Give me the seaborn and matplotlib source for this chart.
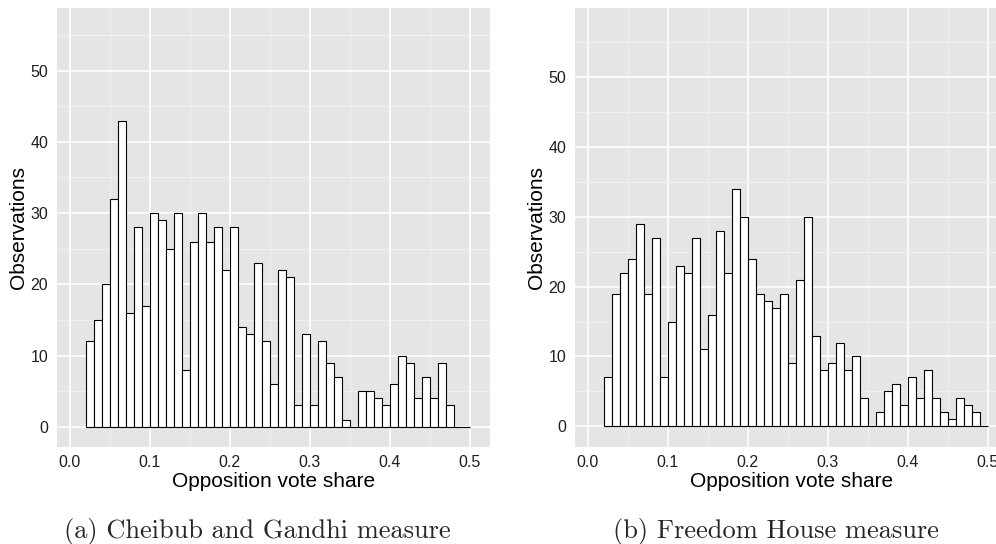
import numpy as np
import pandas as pd
import matplotlib
matplotlib.use("Agg")
import matplotlib.pyplot as plt
import seaborn as sns
from matplotlib.ticker import MultipleLocator

# Histogram bins: width 0.01 starting at 0.02
bin_start = 0.02
bin_width = 0.01

# Counts per bin, Cheibub & Gandhi measure
cg_counts = [12, 15, 20, 32, 43, 16, 28, 17, 30, 29, 25, 30, 8, 26, 30, 26,
             28, 22, 28, 14, 13, 23, 12, 6, 22, 21, 3, 13, 3, 12, 9, 7,
             1, 0, 5, 5, 4, 3, 6, 10, 9, 4, 7, 4, 9, 3, 0, 0]

# Counts per bin, Freedom House measure
fh_counts = [7, 19, 22, 24, 29, 19, 27, 7, 15, 23, 22, 27, 11, 16, 28, 22,
             34, 30, 24, 19, 18, 17, 19, 9, 21, 30, 13, 8, 9, 12, 8, 10,
             4, 0, 2, 5, 6, 3, 7, 4, 8, 4, 2, 1, 4, 3, 2, 0]

x_ticks = [0.0, 0.1, 0.2, 0.3, 0.4, 0.5]
x_tick_labels = ["0.0", "0.1", "0.2", "0.3", "0.4", "0.5"]
y_ticks = [0, 10, 20, 30, 40, 50]
y_tick_labels = ["0", "10", "20", "30", "40", "50"]

x_title = "Opposition vote share"
y_title = "Observations"
captions = ["(a) Cheibub and Gandhi measure", "(b) Freedom House measure"]

sns.set_theme(style="darkgrid")
plt.rcParams["font.family"] = ["Liberation Sans", "DejaVu Sans"]

W, H = 996, 544
fig = plt.figure(figsize=(W / 100, H / 100), dpi=100)
fig.patch.set_facecolor("white")

panel_top, panel_bottom = 8, 446.7
ax_a = fig.add_axes([57 / W, 1 - panel_bottom / H, 433 / W, (panel_bottom - panel_top) / H])
ax_b = fig.add_axes([575 / W, 1 - panel_bottom / H, 432.7 / W, (panel_bottom - panel_top) / H])


def draw_panel(ax, counts, ylim):
    edges = [round(bin_start + bin_width * i, 4) for i in range(len(counts) + 1)]
    centers = [e + bin_width / 2 for e in edges[:-1]]
    df = pd.DataFrame({"share": centers, "n": counts})
    sns.histplot(data=df, x="share", weights="n", bins=edges, ax=ax,
                 color="white", edgecolor="black", linewidth=0.8, alpha=1.0)
    ax.set_facecolor("#E5E5E5")
    ax.set_axisbelow(True)
    ax.set_xlim(-0.0159, 0.525)
    ax.set_ylim(*ylim)
    ax.set_xticks(x_ticks)
    ax.set_xticklabels(x_tick_labels)
    ax.set_yticks(y_ticks)
    ax.set_yticklabels(y_tick_labels)
    ax.xaxis.set_minor_locator(MultipleLocator(0.05))
    ax.yaxis.set_minor_locator(MultipleLocator(5))
    ax.grid(which="minor", color="#F2F2F2", linewidth=0.6)
    ax.grid(which="major", color="white", linewidth=1.2)
    ax.tick_params(which="minor", length=0)
    ax.tick_params(which="major", length=3.8, width=0.8, color="#7F7F7F",
                   labelsize=11.5, labelcolor="#1E1E1E", pad=2.5)
    for s in ax.spines.values():
        s.set_visible(False)
    ax.set_xlabel(x_title, fontsize=15, color="black", labelpad=1)
    ax.set_ylabel(y_title, fontsize=15, color="black", labelpad=2)


draw_panel(ax_a, cg_counts, (-2.8, 58.8))
draw_panel(ax_b, fh_counts, (-2.92, 59.9))

fig.text(257 / W, 1 - 538 / H, captions[0], family="cmr10", fontsize=19,
         ha="center", va="baseline")
fig.text(776 / W, 1 - 538 / H, captions[1], family="cmr10", fontsize=19,
         ha="center", va="baseline")

fig.savefig("out.png", dpi=100)
